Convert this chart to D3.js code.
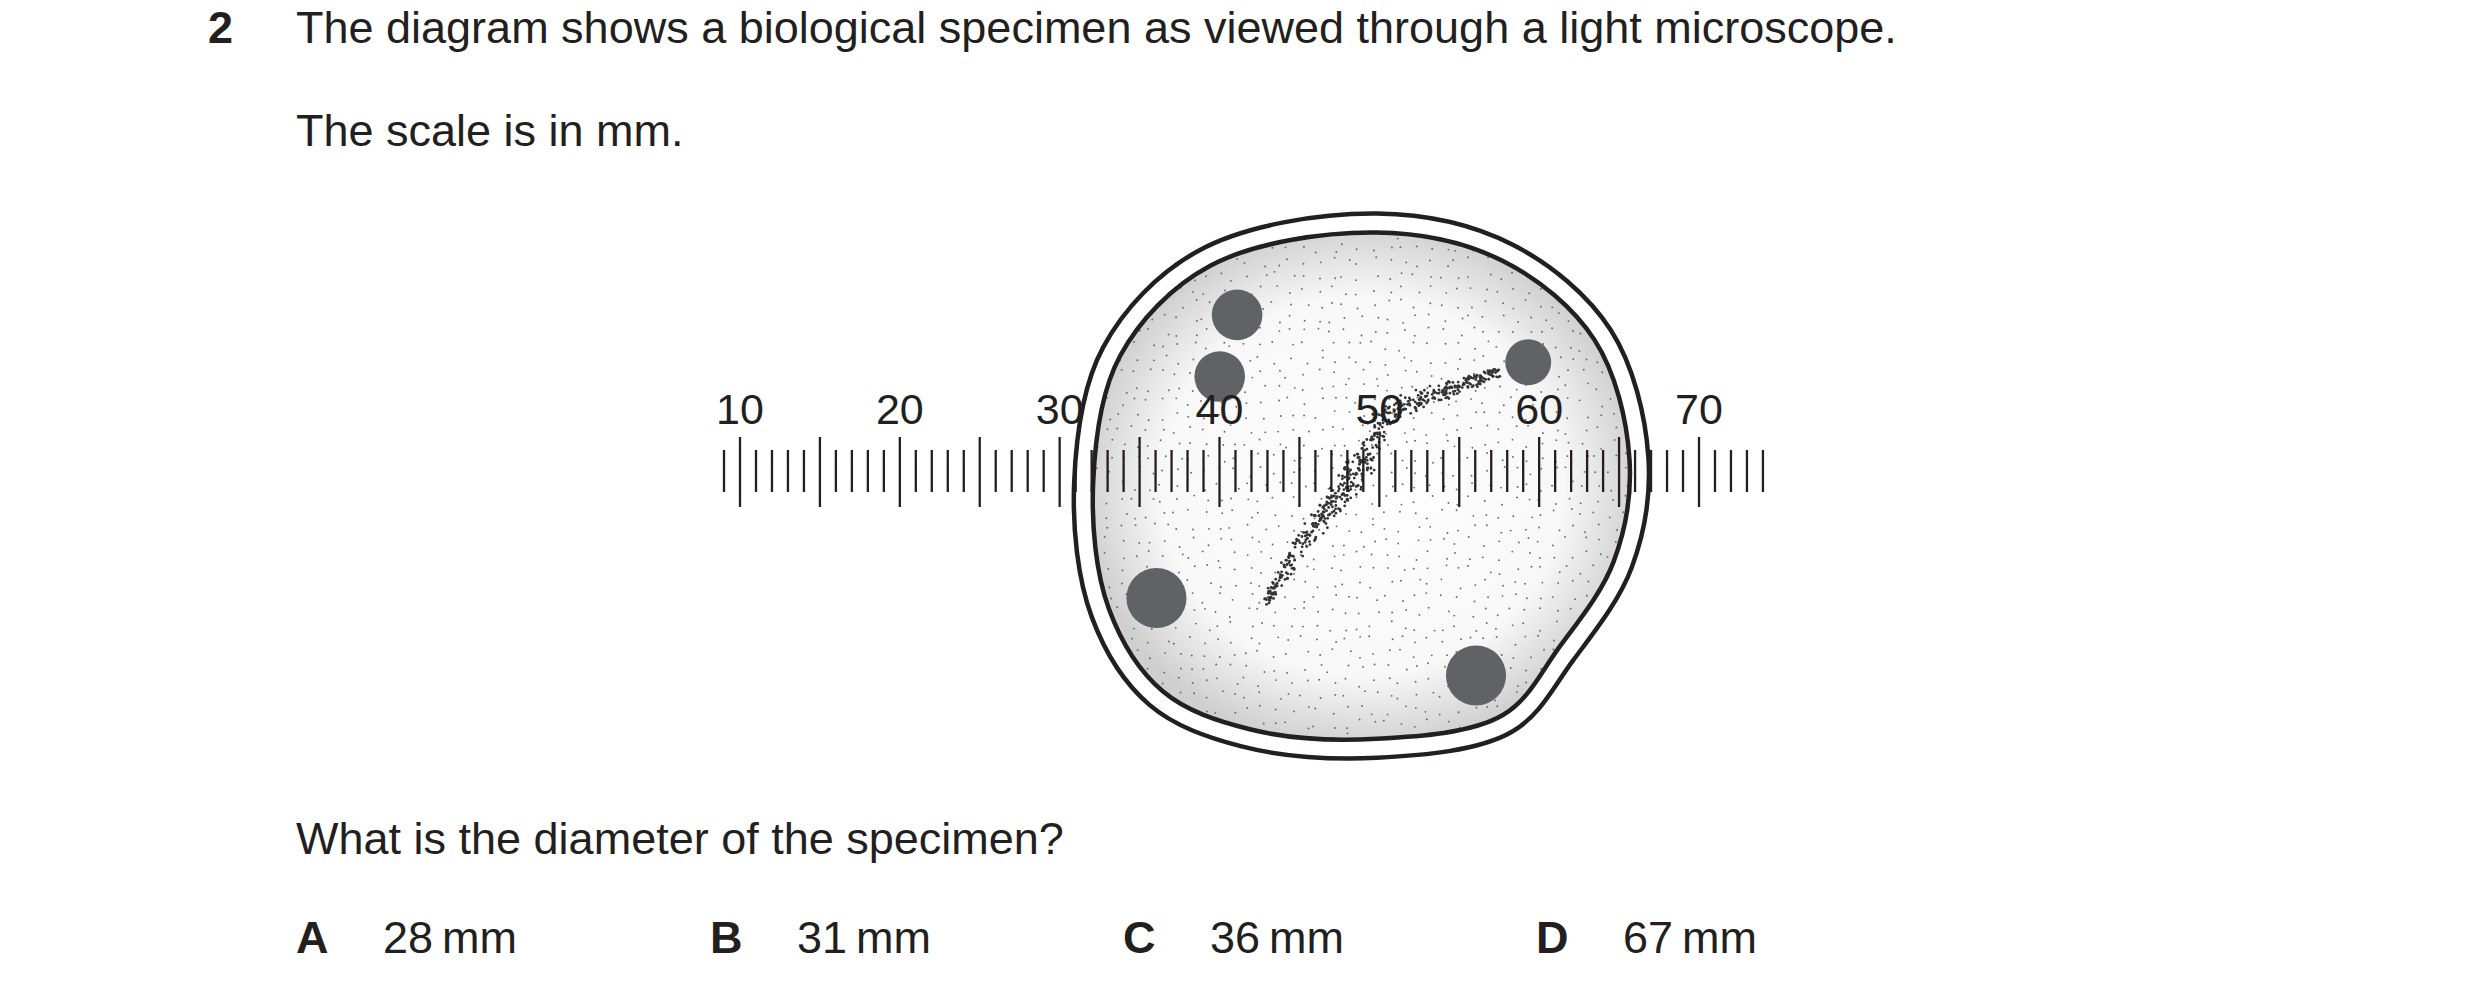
<!DOCTYPE html>
<html><head><meta charset="utf-8">
<script src="https://cdn.jsdelivr.net/npm/d3@7"></script>
<style>body{margin:0;background:#fff}text{font-family:"Liberation Sans",Arial,sans-serif;fill:#231f20}</style>
</head><body>
<script>
const tickLabels = [10,20,30,40,50,60,70];
const tickRange = [9,74];
const options = [{letter:"A",text:"28\u2009mm"},{letter:"B",text:"31\u2009mm"},{letter:"C",text:"36\u2009mm"},{letter:"D",text:"67\u2009mm"}];
const K = 1.582;
const outline = [[870,147],[950,165],[1008,215],[1030,290],[1020,355],[985,410],[950,452],[870,467],[790,461],[735,437],[701,385],[691,305],[708,225],[765,168]];
const nuclei = [[782,199,16],[771,238,16],[966,229,14.5],[731,378,19],[933,427,19]];
const stripe = [[800,382],[822,345],[845,315],[862,290],[875,265],[905,250],[948,235]];

const W=2480,H=994;
const svg=d3.select("body").append("svg").attr("width",W).attr("height",H);
const fs=45;
svg.append("text").attr("x",208).attr("y",43).attr("font-size",fs).attr("font-weight","bold").text("2");
svg.append("text").attr("x",296).attr("y",43).attr("font-size",fs).text("The diagram shows a biological specimen as viewed through a light microscope.");
svg.append("text").attr("x",296).attr("y",146).attr("font-size",fs).text("The scale is in mm.");
svg.append("text").attr("x",296).attr("y",854).attr("font-size",fs).text("What is the diameter of the specimen?");
const ox=[296,710,1123,1536];
options.forEach((o,i)=>{
  svg.append("text").attr("x",ox[i]).attr("y",953).attr("font-size",fs).attr("font-weight","bold").text(o.letter);
  svg.append("text").attr("x",ox[i]+87).attr("y",953).attr("font-size",fs).text(o.text);
});

const cx=865*K, cy=305*K;
const inner=outline.map(p=>[p[0]*K,p[1]*K]);
const outer=inner.map(([x,y])=>{const dx=x-cx,dy=y-cy,d=Math.hypot(dx,dy);return [x+dx/d*19,y+dy/d*19];});
const line=d3.line().curve(d3.curveCatmullRomClosed.alpha(0.5));
const defs=svg.append("defs");
const g=defs.append("radialGradient").attr("id","rg").attr("cx","50%").attr("cy","50%").attr("r","52%");
g.append("stop").attr("offset","0%").attr("stop-color","#fff");
g.append("stop").attr("offset","72%").attr("stop-color","#f8f8f8");
g.append("stop").attr("offset","100%").attr("stop-color","#cfcfcf");
defs.append("clipPath").attr("id","cl").append("path").attr("d",line(inner));
svg.append("path").attr("d",line(outer)).attr("fill","#fff").attr("stroke","#231f20").attr("stroke-width",4.5);
svg.append("path").attr("d",line(inner)).attr("fill","url(#rg)").attr("stroke","none");
const st=svg.append("g").attr("clip-path","url(#cl)").attr("fill","#6a6a6a");
const h=(i)=>{const s=Math.sin(i*12.9898)*43758.5453;return s-Math.floor(s);};
let k=0;
for(let y=220;y<760;y+=14){for(let x=1080;x<1650;x+=14){k++;st.append("circle").attr("cx",x+(h(k)-0.5)*10).attr("cy",y+(h(k+7777)-0.5)*10).attr("r",0.95);}}
const sp=stripe.map(p=>[p[0]*K,p[1]*K]);
const pathEl=svg.append("path").attr("d",d3.line().curve(d3.curveCatmullRom)(sp)).attr("fill","none").attr("stroke","none").node();
const L=pathEl.getTotalLength();
for(let i=0;i<550;i++){const t=h(i+300)*L;const p=pathEl.getPointAtLength(t);const w=8+14*Math.sin(Math.PI*t/L);
  st.append("circle").attr("cx",p.x+(h(i+900)-0.5)*w).attr("cy",p.y+(h(i+1900)-0.5)*w).attr("r",1.4).attr("fill","#333");}
svg.append("path").attr("d",line(inner)).attr("fill","none").attr("stroke","#231f20").attr("stroke-width",4.5);
svg.selectAll(".nuc").data(nuclei).join("circle").attr("cx",d=>d[0]*K).attr("cy",d=>d[1]*K).attr("r",d=>d[2]*K).attr("fill","#616265");

const x=d3.scaleLinear().domain([10,70]).range([740,1699]);
const ticks=d3.range(tickRange[0],tickRange[1]+1);
svg.selectAll(".tk").data(ticks).join("line").attr("x1",d=>x(d)).attr("x2",d=>x(d))
  .attr("y1",d=>d%5===0?437:450).attr("y2",d=>d%5===0?507:492).attr("stroke","#231f20").attr("stroke-width",2.3);
svg.selectAll(".tl").data(tickLabels).join("text").attr("x",d=>x(d)).attr("y",424).attr("text-anchor","middle").attr("font-size",43).text(d=>d);
</script>
</body></html>
